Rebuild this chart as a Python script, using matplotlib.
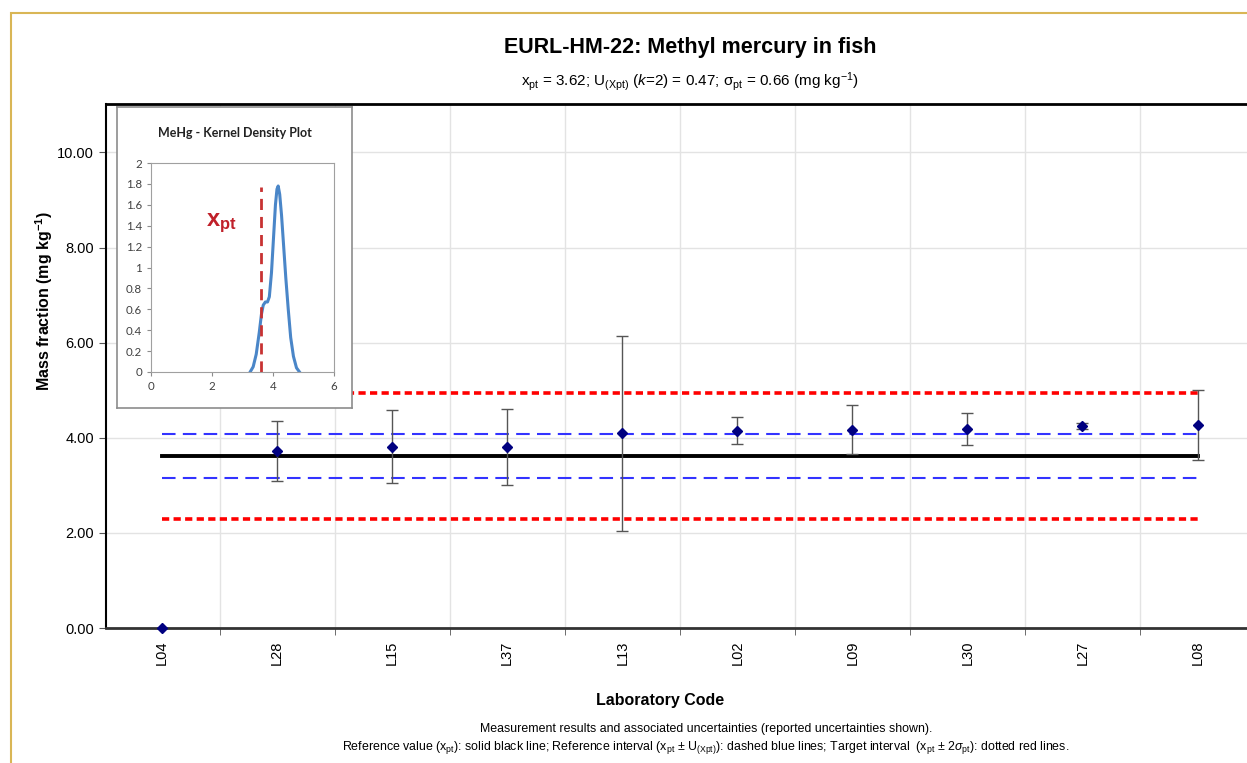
import matplotlib
matplotlib.use('Agg')
import matplotlib.pyplot as plt
from matplotlib.patches import Rectangle

plt.rcParams['font.family'] = ['Liberation Sans', 'DejaVu Sans']
plt.rcParams['mathtext.fontset'] = 'custom'
plt.rcParams['mathtext.rm'] = 'Liberation Sans'
plt.rcParams['mathtext.it'] = 'Liberation Sans:italic'
plt.rcParams['mathtext.bf'] = 'Liberation Sans:bold'

# Resultados dos laboratórios
labs = ['L04', 'L28', 'L15', 'L37', 'L13', 'L02', 'L09', 'L30', 'L27', 'L08']
valores = [0.00, 3.72, 3.81, 3.81, 4.10, 4.15, 4.17, 4.19, 4.25, 4.27]
incertezas = [0.00, 0.63, 0.77, 0.80, 2.05, 0.29, 0.51, 0.34, 0.07, 0.73]

x_pt = 3.62
u_xpt = 0.47
sigma_pt = 0.66

# Curva de densidade
kde_x = [3.25, 3.35, 3.45, 3.55, 3.62, 3.68, 3.75, 3.82, 3.88, 3.95, 4.02, 4.08,
         4.13, 4.17, 4.22, 4.28, 4.35, 4.42, 4.50, 4.58, 4.67, 4.77, 4.87]
kde_y = [0.00, 0.05, 0.17, 0.38, 0.55, 0.64, 0.67, 0.67, 0.72, 0.95, 1.30, 1.60,
         1.75, 1.78, 1.70, 1.50, 1.20, 0.90, 0.60, 0.33, 0.15, 0.04, 0.00]

W, H = 1247, 763
fig = plt.figure(figsize=(W / 100, H / 100), dpi=100)

# moldura dourada
fig.patches.append(Rectangle((11 / W, -0.1), 1.2, 1 - 13 / H + 0.1, transform=fig.transFigure,
                             fill=False, edgecolor='#D9B655', linewidth=1.5))

ax = fig.add_axes([106 / W, 1 - 628 / H, 1 - 106 / W, (628 - 103.5) / H])
pos = list(range(len(labs)))

for lim in [x_pt - 2 * sigma_pt, x_pt + 2 * sigma_pt]:
    ax.plot([0, len(labs) - 1], [lim, lim], color='#FF0000', lw=2.6, dashes=(2.0, 1.2), zorder=3)
for lim in [x_pt - u_xpt, x_pt + u_xpt]:
    ax.plot([0, len(labs) - 1], [lim, lim], color='#3333FF', lw=1.5, dashes=(6.5, 3.5), zorder=3)
ax.plot([0, len(labs) - 1], [x_pt, x_pt], color='black', lw=2.8, zorder=4)

ax.errorbar(pos[1:], valores[1:], yerr=incertezas[1:], fmt='none', ecolor='#555555',
            elinewidth=1.0, capsize=4, capthick=1.0, zorder=5)
ax.plot(pos, valores, 'D', color='#000080', markersize=5, zorder=6, clip_on=False)

ax.set_xlim(-0.487, 9.43)
ax.set_ylim(0, 11.03)
ax.set_yticks([0, 2, 4, 6, 8, 10])
ax.set_yticklabels([f'{v:.2f}' for v in [0, 2, 4, 6, 8, 10]], fontsize=10.5)
ax.set_xticks(pos)
ax.set_xticklabels(labs, rotation=90, fontsize=10.5)
ax.tick_params(axis='x', length=0, pad=9)
ax.set_xticks([p + 0.5 for p in pos[:-1]], minor=True)
ax.tick_params(axis='x', which='minor', length=5, color='#555555', direction='out')
ax.tick_params(axis='y', length=5, direction='out', color='#555555')
ax.grid(True, axis='y', color='#E3E3E3', lw=1)
ax.grid(True, axis='x', which='minor', color='#E3E3E3', lw=1)
ax.spines['right'].set_visible(False)
ax.spines['left'].set_linewidth(1.5)
ax.spines['top'].set_linewidth(2.0)
ax.spines['bottom'].set_linewidth(2.0)
ax.spines['bottom'].set_color('#333333')
ax.set_axisbelow(True)

# textos
fig.text(690 / W, 1 - 47 / H, 'EURL-HM-22: Methyl mercury in fish', ha='center', va='center',
         fontsize=15.5, fontweight='bold')
fig.text(690 / W, 1 - 82 / H,
         r'x$_{\rm pt}$ = 3.62; U$_{\rm (Xpt)}$ ($k$=2) = 0.47; σ$_{\rm pt}$ = 0.66 (mg kg$^{-1}$)',
         ha='center', va='center', fontsize=11)
fig.text(44 / W, 1 - 301 / H, r'Mass fraction (mg kg$^{\mathbf{-1}}$)', rotation=90,
         ha='center', va='center', fontsize=11.5, fontweight='bold')
fig.text(660 / W, 1 - 701 / H, 'Laboratory Code', ha='center', va='center',
         fontsize=11.5, fontweight='bold')
fig.text(706 / W, 1 - 729 / H,
         'Measurement results and associated uncertainties (reported uncertainties shown).',
         ha='center', va='center', fontsize=8.9)
fig.text(706 / W, 1 - 747 / H,
         r'Reference value (x$_{\rm pt}$): solid black line; Reference interval (x$_{\rm pt}$ $\pm$ U$_{\rm (Xpt)}$): '
         r'dashed blue lines; Target interval  (x$_{\rm pt}$ $\pm$ 2$\sigma_{\rm pt}$): dotted red lines.',
         ha='center', va='center', fontsize=8.9)

# gráfico de densidade (inset)
moldura = fig.add_axes([117 / W, 1 - 408 / H, (352 - 117) / W, (408 - 107) / H])
moldura.set_xticks([])
moldura.set_yticks([])
for s in moldura.spines.values():
    s.set_color('#8C8C8C')
    s.set_linewidth(1.2)
moldura.text(0.5, 0.915, 'MeHg - Kernel Density Plot', transform=moldura.transAxes,
             ha='center', va='center', fontsize=9, fontweight='bold', family='Lato', color='#222222')

ins = fig.add_axes([151 / W, 1 - 372 / H, (334 - 151) / W, (372 - 163) / H])
ins.plot(kde_x, kde_y, color='#4A86C8', lw=2.2)
ins.plot([x_pt, x_pt], [0, 1.77], color='#C83232', lw=2, dashes=(4, 2.5))
ins.text(2.3, 1.42, r'x$_{\mathbf{pt}}$', color='#C0202A', fontsize=17, fontweight='bold',
         ha='center', va='center')
ins.set_xlim(0, 6)
ins.set_ylim(0, 2)
ins.set_xticks([0, 2, 4, 6])
ins.set_yticks([0, 0.2, 0.4, 0.6, 0.8, 1, 1.2, 1.4, 1.6, 1.8, 2])
ins.set_yticklabels(['0', '0.2', '0.4', '0.6', '0.8', '1', '1.2', '1.4', '1.6', '1.8', '2'])
ins.tick_params(labelsize=8.3, colors='#404040', length=3, color='#8C8C8C')
for lbl in ins.get_xticklabels() + ins.get_yticklabels():
    lbl.set_family('Lato')
for s in ins.spines.values():
    s.set_color('#A0A0A0')

fig.savefig('out.png', dpi=100)
